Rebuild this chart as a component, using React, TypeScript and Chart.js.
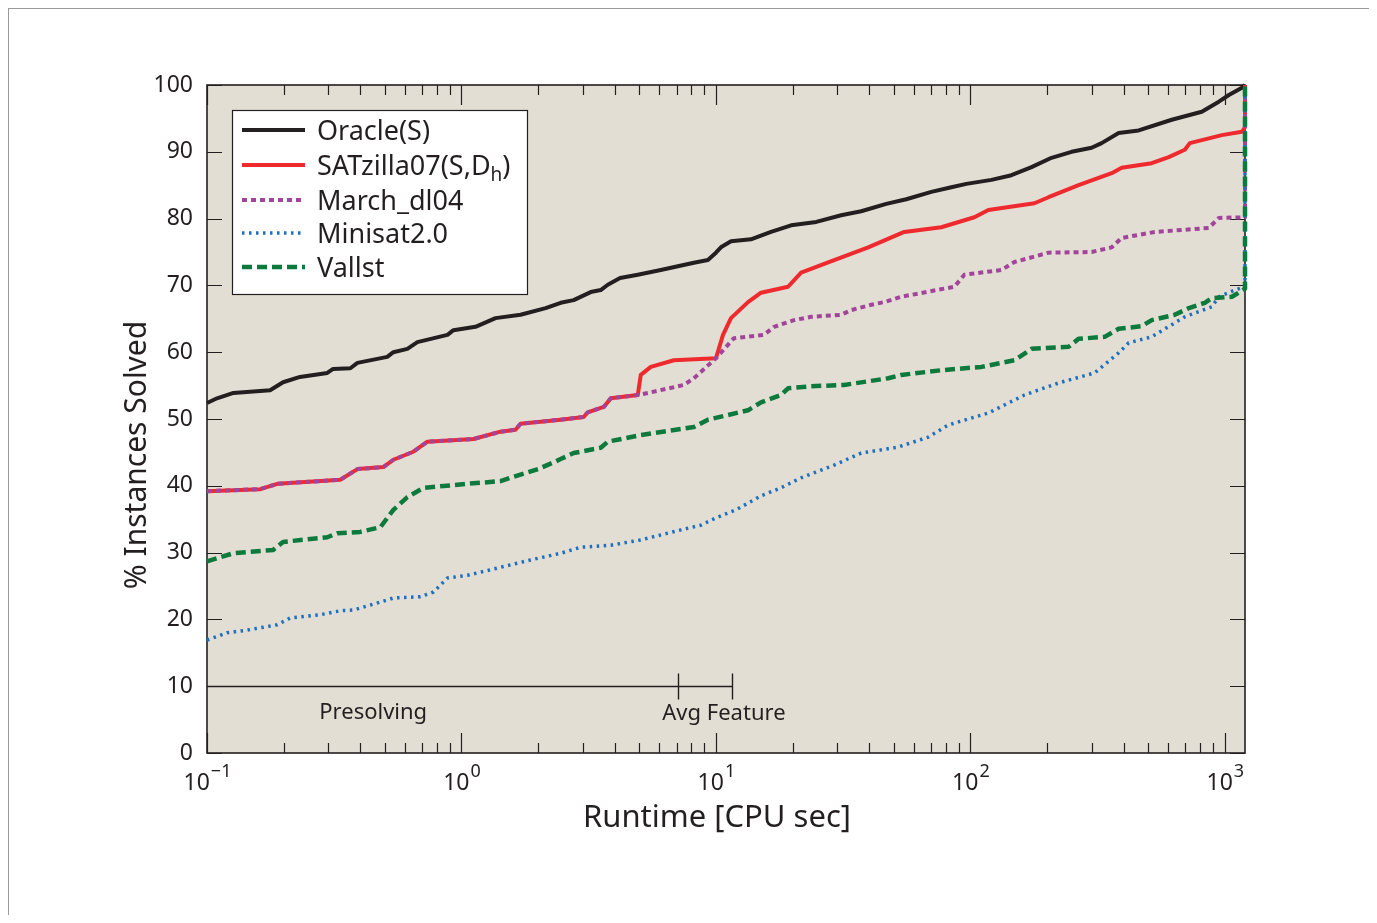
import { useEffect, useRef } from "react";
import { Chart, registerables } from "chart.js";

Chart.register(...registerables);

// ---------- data (runtime in CPU seconds, % instances solved) ----------
const X_MIN = 0.1;
const X_MAX = 1200;
const Y_MIN = 0;
const Y_MAX = 100;

const oracleTime = [0.1, 0.1095, 0.127, 0.177, 0.199, 0.232, 0.297, 0.313, 0.366, 0.39, 0.511, 0.54, 0.613, 0.671, 0.881, 0.93, 1.135, 1.361, 1.707, 2.142, 2.454, 2.76, 3.22, 3.526, 3.758, 4.2, 4.931, 6.07, 8.19, 9.3, 10.0, 10.46, 11.46, 13.73, 16.46, 19.74, 24.8, 31.05, 37.23, 46.7, 55.98, 70.23, 84.2, 96.4, 121, 145, 173.9, 208.4, 249.8, 299.5, 327.9, 382.5, 458.6, 618.5, 811.7, 947.1, 1037, 1167, 1200];
const oracleSolved = [52.4, 53.1, 53.9, 54.3, 55.5, 56.3, 56.9, 57.5, 57.6, 58.4, 59.3, 60.0, 60.5, 61.5, 62.6, 63.3, 63.8, 65.1, 65.6, 66.6, 67.4, 67.8, 69.0, 69.3, 70.1, 71.1, 71.6, 72.3, 73.4, 73.8, 74.9, 75.7, 76.6, 76.9, 78.0, 79.0, 79.5, 80.5, 81.1, 82.2, 82.9, 84.0, 84.7, 85.2, 85.8, 86.5, 87.7, 89.1, 90.0, 90.6, 91.3, 92.8, 93.2, 94.8, 96.0, 97.5, 98.5, 99.6, 100];

const satzillaTime = [0.1, 0.162, 0.189, 0.334, 0.39, 0.493, 0.54, 0.647, 0.735, 1.115, 1.424, 1.631, 1.707, 2.454, 3.022, 3.134, 3.624, 3.862, 4.931, 5.067, 5.548, 6.834, 10.0, 10.66, 11.46, 13.37, 15.04, 19.21, 21.61, 29.15, 39.67, 54.97, 76.88, 103.7, 117.7, 178.6, 202.8, 266.2, 359.2, 393, 515.9, 601.9, 696, 728.3, 973.2, 1167, 1200, 1200];
const satzillaSolved = [39.2, 39.5, 40.3, 40.9, 42.5, 42.8, 43.9, 45.1, 46.6, 47.0, 48.1, 48.4, 49.3, 49.9, 50.3, 51.0, 51.8, 53.1, 53.6, 56.6, 57.8, 58.8, 59.1, 62.6, 65.1, 67.5, 68.9, 69.8, 71.9, 73.8, 75.7, 78.0, 78.7, 80.2, 81.3, 82.3, 83.2, 85.0, 86.8, 87.6, 88.3, 89.2, 90.3, 91.3, 92.5, 93.0, 93.7, 100];

const marchTime = [0.1, 0.162, 0.189, 0.334, 0.39, 0.493, 0.54, 0.647, 0.735, 1.115, 1.424, 1.631, 1.707, 2.454, 3.022, 3.134, 3.624, 3.862, 4.931, 5.4, 7.482, 8.193, 10.0, 11.77, 15.45, 16.92, 20.28, 23.66, 31.05, 34.0, 40.76, 45.86, 53.5, 86.5, 94.7, 132.4, 149, 202.8, 299.5, 359.2, 393, 530.1, 865, 947.1, 1200, 1200];
const marchSolved = [39.2, 39.5, 40.3, 40.9, 42.5, 42.8, 43.9, 45.1, 46.6, 47.0, 48.1, 48.4, 49.3, 49.9, 50.3, 51.0, 51.8, 53.1, 53.6, 53.9, 55.1, 56.1, 59.1, 62.1, 62.6, 63.8, 64.8, 65.3, 65.6, 66.3, 67.1, 67.5, 68.3, 69.8, 71.6, 72.3, 73.5, 74.9, 75.0, 75.7, 77.1, 78.0, 78.6, 80.1, 80.2, 100];

const minisatTime = [0.1, 0.12, 0.144, 0.189, 0.212, 0.279, 0.334, 0.376, 0.48, 0.54, 0.69, 0.776, 0.881, 1.056, 1.424, 1.869, 2.454, 2.941, 3.862, 5.067, 7.281, 8.731, 10.0, 11.99, 15.04, 18.03, 21.61, 29.15, 37.23, 52.07, 68.34, 81.9, 117.7, 163.2, 222.1, 307.8, 382.5, 418.8, 515.9, 696, 888.9, 947.1, 1095, 1200, 1200];
const minisatSolved = [16.9, 18.0, 18.4, 19.2, 20.2, 20.7, 21.3, 21.4, 22.6, 23.2, 23.4, 24.1, 26.2, 26.6, 27.8, 28.9, 29.9, 30.8, 31.1, 31.9, 33.4, 34.1, 35.2, 36.4, 38.5, 39.7, 41.2, 43.1, 44.9, 45.8, 47.3, 49.1, 50.9, 53.6, 55.4, 56.9, 59.9, 61.4, 62.3, 65.3, 66.8, 68.3, 69.3, 69.8, 100];

const vallstTime = [0.1, 0.127, 0.182, 0.199, 0.297, 0.325, 0.4, 0.48, 0.54, 0.613, 0.709, 1.056, 1.424, 1.559, 2.0, 2.3, 2.454, 2.76, 3.526, 3.758, 5.067, 8.193, 9.301, 13.37, 15.04, 18.03, 19.21, 23.66, 31.91, 47.56, 53.5, 76.88, 110.5, 149, 173.9, 243.2, 266.2, 337, 382.5, 471.2, 515.9, 635.5, 721.8, 834.2, 888.9, 1066, 1200, 1200];
const vallstSolved = [28.7, 29.9, 30.4, 31.6, 32.3, 32.9, 33.1, 33.8, 36.4, 38.3, 39.7, 40.3, 40.7, 41.2, 42.5, 43.5, 44.0, 44.9, 45.7, 46.6, 47.6, 48.8, 49.9, 51.3, 52.5, 53.6, 54.6, 54.9, 55.1, 56.1, 56.6, 57.3, 57.8, 58.8, 60.5, 60.8, 62.0, 62.3, 63.5, 63.9, 64.8, 65.6, 66.6, 67.4, 68.1, 68.3, 69.5, 100];

// "_{h}" marks a subscript in the legend text
const seriesLabels = ["Oracle(S)", "SATzilla07(S,D_{h})", "March_dl04", "Minisat2.0", "Vallst"];

const yTickValues = [0, 10, 20, 30, 40, 50, 60, 70, 80, 90, 100];
const xTickValues = [0.1, 1, 10, 100, 1000];
const xTickBases = ["10", "10", "10", "10", "10"];
const xTickExponents = ["\u22121", "0", "1", "2", "3"];

const xAxisTitle = "Runtime [CPU sec]";
const yAxisTitle = "% Instances Solved";

// annotation: presolving ends / average feature computation ends
const annotationLevel = 10;
const presolveEnd = 7.09;
const featureEnd = 11.56;
const presolveLabel = "Presolving";
const featureLabel = "Avg Feature";
const presolveLabelAt = 0.45;
const featureLabelAt = 10.75;

// ---------- styles ----------
const FONT = '"Noto Sans", "Open Sans", sans-serif';
const INK = "#231f20";
const PLOT_BG = "#e3ded3";

const styles = [
  { color: "#231f20", width: 4, dash: [] as number[] },
  { color: "#ee2a2e", width: 4, dash: [] as number[] },
  { color: "#a3449c", width: 4, dash: [5, 4] },
  { color: "#1e6fc0", width: 3.5, dash: [2.5, 4.5] },
  { color: "#0c7a3c", width: 4.5, dash: [10, 5] },
];

function toPoints(t: number[], v: number[]) {
  return t.map((x, i) => ({ x, y: v[i] }));
}

function drawLabelWithSub(ctx: CanvasRenderingContext2D, text: string, x: number, y: number, size: number) {
  const m = text.match(/^(.*)_\{(.+?)\}(.*)$/);
  ctx.font = `${size}px ${FONT}`;
  ctx.textAlign = "left";
  ctx.textBaseline = "alphabetic";
  if (!m) {
    ctx.fillText(text, x, y);
    return;
  }
  ctx.fillText(m[1], x, y);
  let cx = x + ctx.measureText(m[1]).width;
  ctx.font = `${Math.round(size * 0.72)}px ${FONT}`;
  ctx.fillText(m[2], cx, y + 6);
  cx += ctx.measureText(m[2]).width;
  ctx.font = `${size}px ${FONT}`;
  ctx.fillText(m[3], cx, y);
}

const decorPlugin = {
  id: "decor",
  beforeDraw(chart: any) {
    const { ctx, chartArea: a } = chart;
    ctx.save();
    ctx.fillStyle = PLOT_BG;
    ctx.fillRect(a.left, a.top, a.right - a.left, a.bottom - a.top);
    ctx.restore();
  },
  beforeDatasetsDraw(chart: any) {
    const { ctx, chartArea: a } = chart;
    const xs = chart.scales.x;
    const ys = chart.scales.y;
    ctx.save();
    ctx.strokeStyle = INK;
    ctx.lineWidth = 1.2;
    ctx.beginPath();
    for (let d = -1; d <= 3; d++) {
      for (let m = 1; m <= 9; m++) {
        const v = m * Math.pow(10, d);
        if (v < X_MIN * 0.999 || v > X_MAX) continue;
        const px = Math.round(xs.getPixelForValue(v)) + 0.5;
        const len = m === 1 ? 20 : 10;
        ctx.moveTo(px, a.bottom);
        ctx.lineTo(px, a.bottom - len);
        ctx.moveTo(px, a.top);
        ctx.lineTo(px, a.top + len);
      }
    }
    for (const v of yTickValues) {
      const py = Math.round(ys.getPixelForValue(v)) + 0.5;
      ctx.moveTo(a.left, py);
      ctx.lineTo(a.left + 15, py);
      ctx.moveTo(a.right, py);
      ctx.lineTo(a.right - 15, py);
    }
    ctx.stroke();

    const ay = Math.round(ys.getPixelForValue(annotationLevel)) + 0.5;
    const x0 = xs.getPixelForValue(X_MIN);
    const x1 = Math.round(xs.getPixelForValue(presolveEnd)) + 0.5;
    const x2 = Math.round(xs.getPixelForValue(featureEnd)) + 0.5;
    ctx.lineWidth = 1.4;
    ctx.beginPath();
    ctx.moveTo(x0, ay);
    ctx.lineTo(x2, ay);
    ctx.moveTo(x1, ay - 13);
    ctx.lineTo(x1, ay + 13);
    ctx.moveTo(x2, ay - 13);
    ctx.lineTo(x2, ay + 13);
    ctx.stroke();
    ctx.fillStyle = INK;
    ctx.font = `22px ${FONT}`;
    ctx.textAlign = "center";
    ctx.textBaseline = "middle";
    ctx.fillText(presolveLabel, xs.getPixelForValue(presolveLabelAt), ay + 26);
    ctx.fillText(featureLabel, xs.getPixelForValue(featureLabelAt), ay + 27);

    ctx.lineWidth = 1.6;
    ctx.strokeRect(a.left, a.top, a.right - a.left, a.bottom - a.top);

    ctx.textBaseline = "alphabetic";
    ctx.textAlign = "left";
    xTickValues.forEach((v, i) => {
      const px = xs.getPixelForValue(v);
      ctx.font = `23px ${FONT}`;
      const wb = ctx.measureText(xTickBases[i]).width;
      ctx.font = `18px ${FONT}`;
      const we = ctx.measureText(xTickExponents[i]).width;
      const left = px - (wb + we) / 2;
      ctx.font = `23px ${FONT}`;
      ctx.fillText(xTickBases[i], left, a.bottom + 37);
      ctx.font = `18px ${FONT}`;
      ctx.fillText(xTickExponents[i], left + wb + 1, a.bottom + 24);
    });

    ctx.font = `31px ${FONT}`;
    ctx.textAlign = "center";
    ctx.textBaseline = "middle";
    ctx.fillText(xAxisTitle, a.left + 510, a.bottom + 65);
    ctx.save();
    ctx.translate(a.left - 70, a.top + 370);
    ctx.rotate(-Math.PI / 2);
    ctx.font = `30px ${FONT}`;
    ctx.fillText(yAxisTitle, 0, 0);
    ctx.restore();
    ctx.restore();
  },
  afterDatasetsDraw(chart: any) {
    const { ctx, chartArea: a } = chart;
    const bx = a.left + 25;
    const by = a.top + 25;
    const bw = 295;
    const bh = 184;
    ctx.save();
    ctx.fillStyle = "#ffffff";
    ctx.fillRect(bx, by, bw, bh);
    ctx.strokeStyle = INK;
    ctx.lineWidth = 1.2;
    ctx.strokeRect(bx + 0.5, by + 0.5, bw, bh);
    const rows = [20, 55, 90, 123, 157];
    chart.data.datasets.forEach((ds: any, i: number) => {
      const cy = by + rows[i];
      ctx.strokeStyle = ds.borderColor;
      ctx.lineWidth = ds.borderWidth;
      ctx.setLineDash(ds.borderDash || []);
      ctx.beginPath();
      ctx.moveTo(bx + 10, cy);
      ctx.lineTo(bx + 73, cy);
      ctx.stroke();
      ctx.setLineDash([]);
      ctx.fillStyle = INK;
      drawLabelWithSub(ctx, ds.label, bx + 85, cy + 10, 27);
    });
    ctx.restore();
  },
};

export default function App() {
  const canvasRef = useRef<HTMLCanvasElement | null>(null);

  useEffect(() => {
    if (!canvasRef.current) return;
    const seriesTimes = [oracleTime, satzillaTime, marchTime, minisatTime, vallstTime];
    const seriesValues = [oracleSolved, satzillaSolved, marchSolved, minisatSolved, vallstSolved];
    const datasets = seriesLabels.map((label, i) => ({
      label,
      data: toPoints(seriesTimes[i], seriesValues[i]),
      borderColor: styles[i].color,
      backgroundColor: styles[i].color,
      borderWidth: styles[i].width,
      borderDash: styles[i].dash,
      borderCapStyle: "butt" as const,
      borderJoinStyle: "round" as const,
      pointRadius: 0,
      tension: 0,
      fill: false,
      clip: false as const,
      order: seriesLabels.length - i,
    }));

    const chart = new Chart(canvasRef.current, {
      type: "line",
      data: { datasets },
      options: {
        animation: false,
        responsive: false,
        devicePixelRatio: 1,
        layout: { padding: { top: 76, left: 0, right: 129, bottom: 62 } },
        plugins: { legend: { display: false }, tooltip: { enabled: false } },
        scales: {
          x: {
            type: "logarithmic",
            min: X_MIN,
            max: X_MAX,
            grid: { display: false },
            border: { display: false },
            ticks: { display: false },
            afterFit: (s: any) => {
              s.height = 100;
            },
          },
          y: {
            type: "linear",
            min: Y_MIN,
            max: Y_MAX,
            grid: { display: false, drawTicks: false },
            border: { display: false },
            ticks: {
              stepSize: 10,
              padding: 14,
              color: INK,
              font: { family: FONT, size: 23 },
            },
            afterFit: (s: any) => {
              s.width = 198;
            },
          },
        },
      },
      plugins: [decorPlugin],
    });
    return () => chart.destroy();
  }, []);

  return (
    <div
      style={{
        position: "relative",
        width: 1365,
        height: 906,
        borderTop: "1px solid #9a9a9a",
        borderLeft: "1px solid #9a9a9a",
        borderRight: "1px solid #9a9a9a",
        background: "#ffffff",
      }}
    >
      <canvas ref={canvasRef} width={1365} height={906} style={{ display: "block", width: 1365, height: 906 }} />
    </div>
  );
}
